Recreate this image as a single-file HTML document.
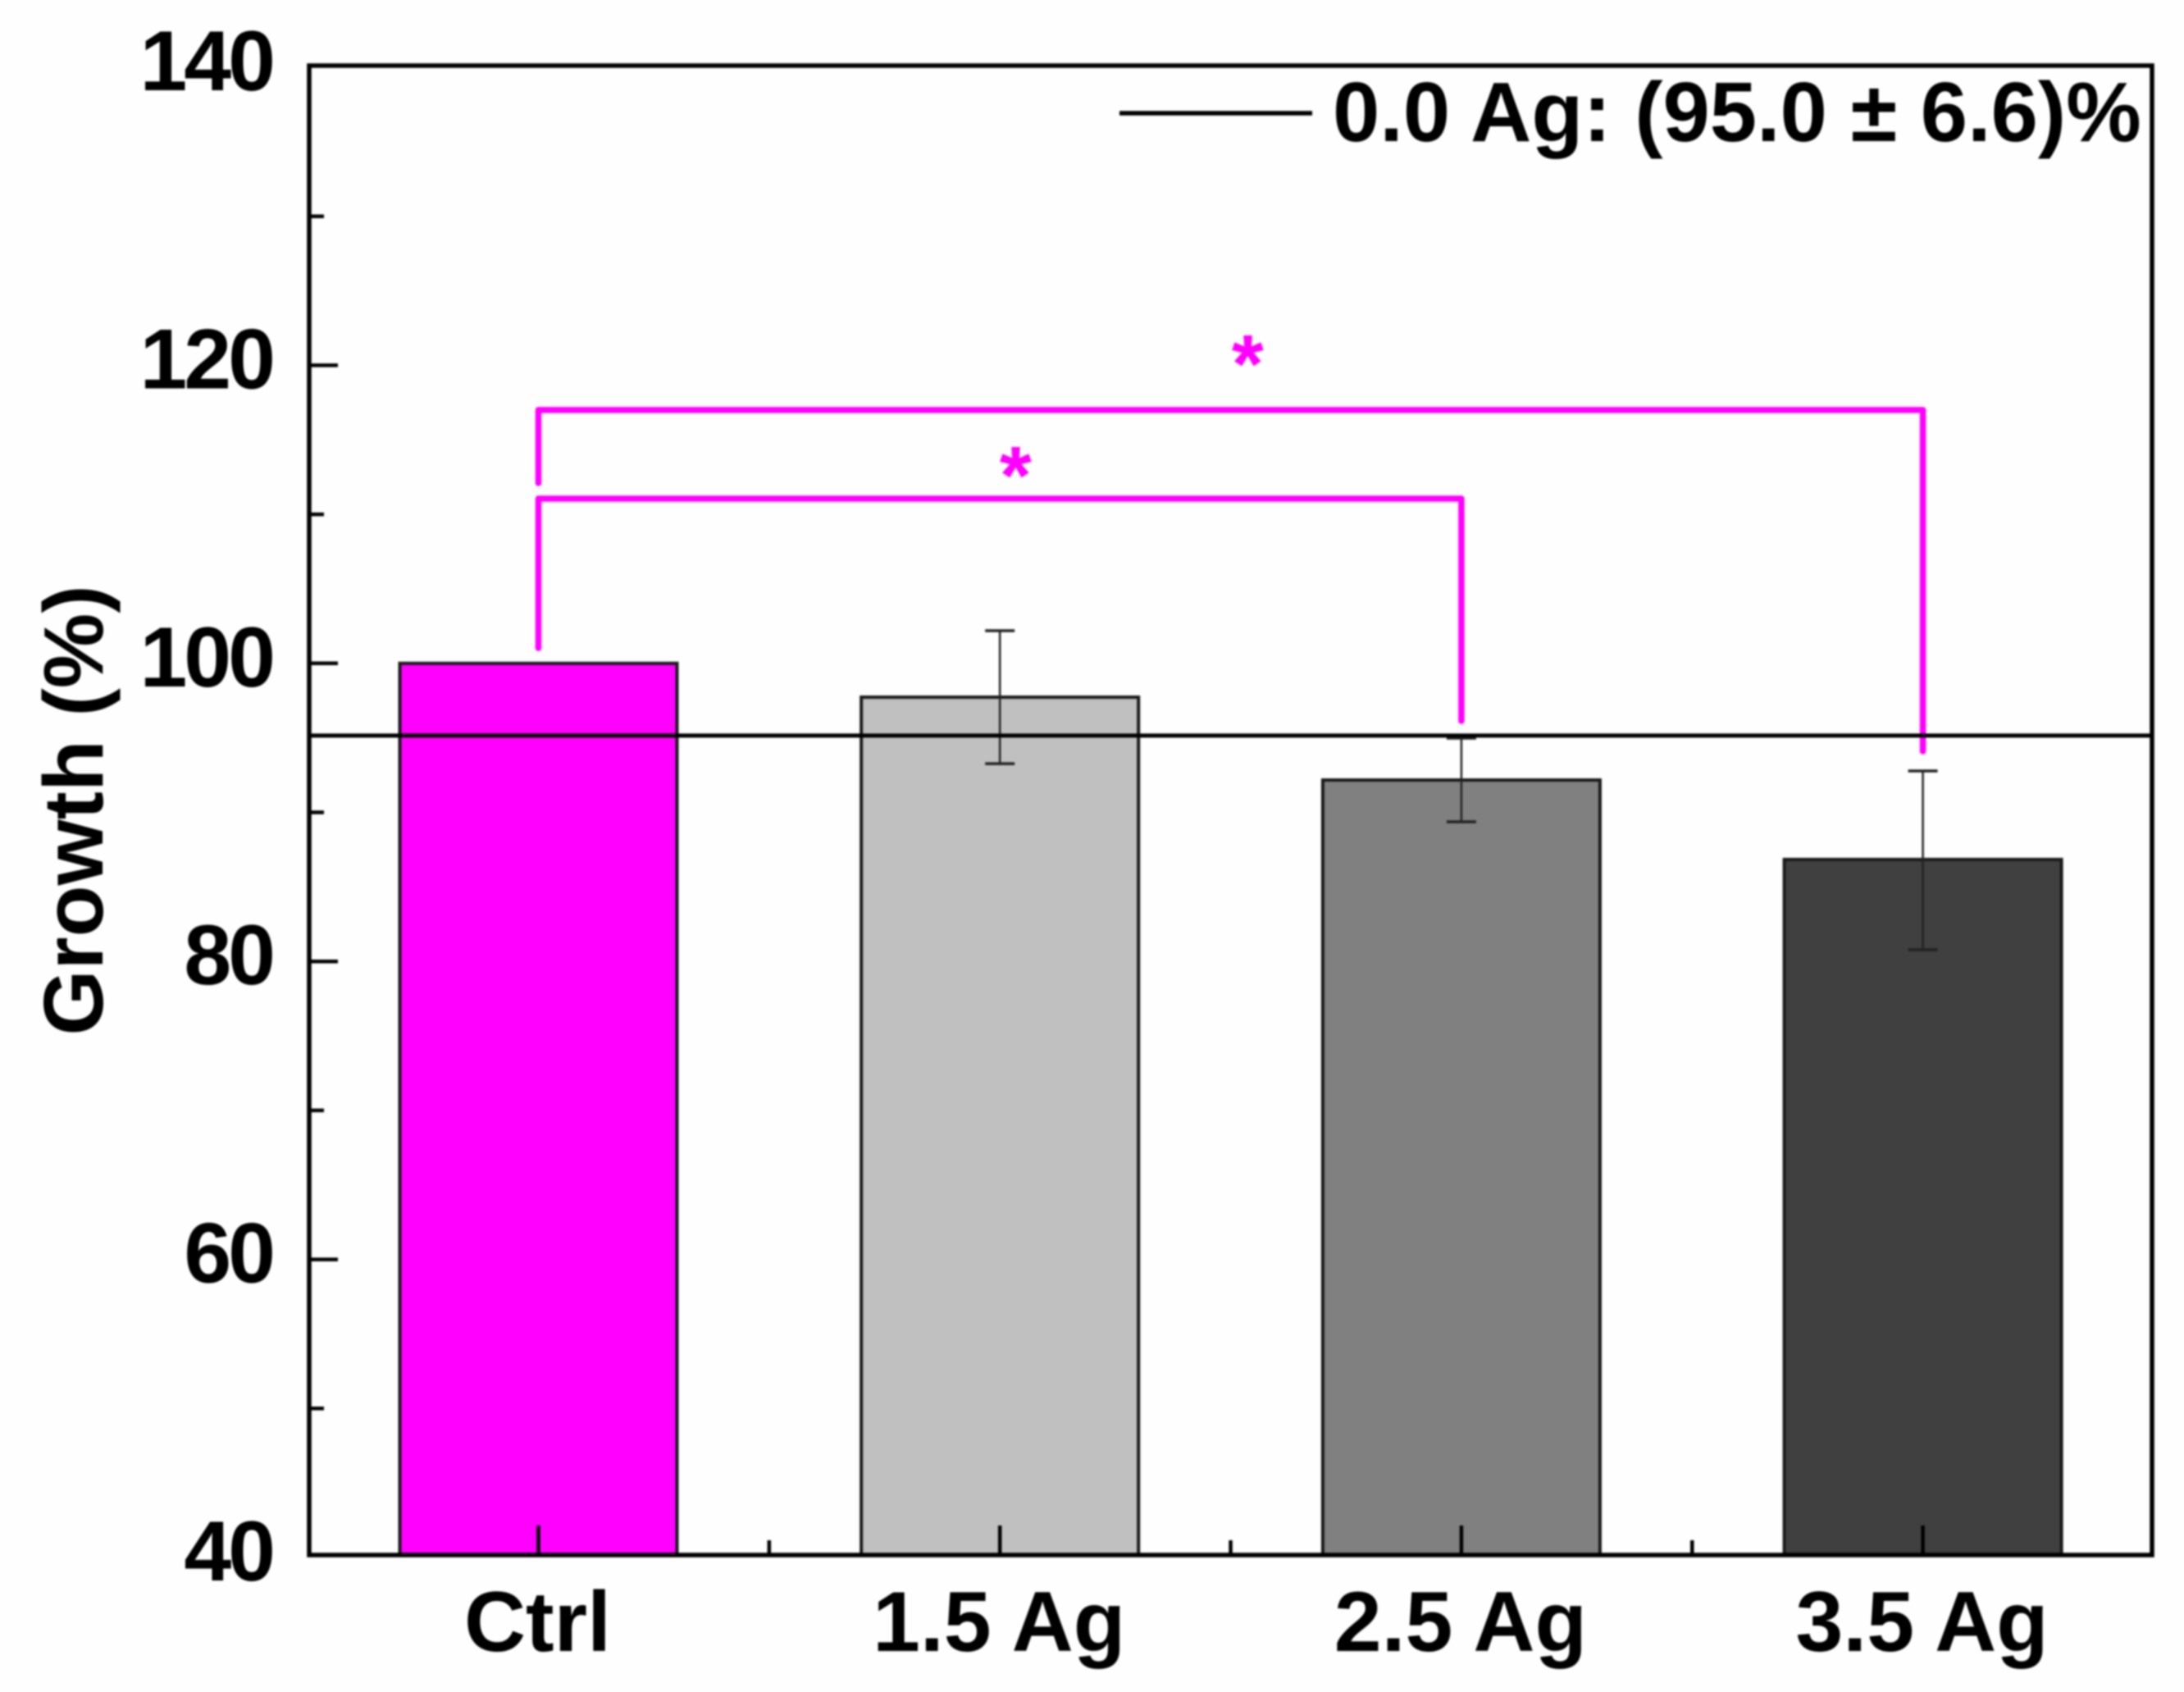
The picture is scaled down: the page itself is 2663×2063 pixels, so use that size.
<!DOCTYPE html>
<html lang="en">
<head>
<meta charset="utf-8">
<title>Growth chart</title>
<style>
html,body{margin:0;padding:0;background:#fff;width:2663px;height:2063px;overflow:hidden}
svg{display:block;filter:blur(1px)}
text{font-family:"Liberation Sans",Arial,sans-serif;font-weight:bold;fill:#000}
</style>
</head>
<body>
<svg id="chart" xmlns="http://www.w3.org/2000/svg" width="2663" height="2063" viewBox="0 0 2663 2063">
<rect x="0" y="0" width="2663" height="2063" fill="#fefefe"/>
</svg>
<script>
const categories = ['Ctrl', '1.5 Ag', '2.5 Ag', '3.5 Ag'];
const barValues = [100, 97.73, 92.17, 86.84];
const errHigh = [null, 102.19, 94.98, 92.78];
const errLow = [null, 93.27, 89.37, 80.78];
const barColors = ['#ff00ff', '#c0c0c0', '#808080', '#404040'];
const yMajorTicks = [140, 120, 100, 80, 60, 40];
const yMinorTicks = [130, 110, 90, 70, 50];
const xMinorTicks = [0.5, 1.5, 2.5];
const referenceValue = [95.15];
const bracketFrom = [0, 0];
const bracketTo = [3, 2];
const bracketLevel = [117.0, 111.05];
const bracketLeftEnd = [112.1, 101.03];
const bracketRightEnd = [94.1, 96.14];
const starCategory = [1.537, 1.034];
const starValue = [121.3, 113.8];

const NS = 'http://www.w3.org/2000/svg';
const svg = document.getElementById('chart');
const xScale = i => 656.5 + 562.7 * i;
const yScale = v => 82 + (140 - v) * 18.17;
const FRAME = { left: 377, right: 2624, top: 80, bottom: 1896 };
const BAR_HALF = 169;
const CAP_HALF = 18;

function make(tag, attrs, parent) {
  const el = document.createElementNS(NS, tag);
  Object.keys(attrs).forEach(k => el.setAttribute(k, attrs[k]));
  (parent || svg).appendChild(el);
  return el;
}

categories.forEach((cat, i) => {
  const top = yScale(barValues[i]);
  const bar = make('rect', { x: xScale(i) - BAR_HALF, y: top, width: BAR_HALF * 2, height: FRAME.bottom - top, fill: barColors[i], stroke: '#1a1a1a', 'stroke-width': 4 });
  
  
});

categories.forEach((cat, i) => {
  if (errHigh[i] === null) return;
  const g = make('g', { stroke: '#222', fill: 'none' });
  
  
  const x = xScale(i), hi = yScale(errHigh[i]), lo = yScale(errLow[i]);
  make('line', { x1: x, x2: x, y1: hi, y2: lo, 'stroke-width': 2.5 }, g);
  make('line', { x1: x - CAP_HALF, x2: x + CAP_HALF, y1: hi, y2: hi, 'stroke-width': 3.5 }, g);
  make('line', { x1: x - CAP_HALF, x2: x + CAP_HALF, y1: lo, y2: lo, 'stroke-width': 3.5 }, g);
});

bracketLevel.forEach((lvl, i) => {
  const xa = xScale(bracketFrom[i]), xb = xScale(bracketTo[i]);
  const d = 'M' + xa + ' ' + yScale(bracketLeftEnd[i]) + ' V' + yScale(lvl) + ' H' + xb + ' V' + yScale(bracketRightEnd[i]);
  const p = make('path', { d: d, fill: 'none', stroke: '#ff00ff', 'stroke-width': 7.5, 'stroke-linejoin': 'round', 'stroke-linecap': 'round' });
  
  
});

starValue.forEach((v, i) => {
  const t = make('text', { x: xScale(starCategory[i]), y: yScale(v) + 56, 'font-size': 100, 'text-anchor': 'middle', style: 'fill:#ff00ff' });
  t.textContent = '*';
  
  
});

const refLine = make('line', { x1: FRAME.left, x2: FRAME.right, y1: yScale(referenceValue[0]), y2: yScale(referenceValue[0]), stroke: '#000', 'stroke-width': 5 });



yMajorTicks.forEach(v => {
  const y = yScale(v);
  if (v !== 140 && v !== 40) {
    const tick = make('line', { x1: FRAME.left, x2: FRAME.left + 35, y1: y, y2: y, stroke: '#000', 'stroke-width': 4.5 });
    
    
  }
  const label = make('text', { x: 332, y: y + 28, 'font-size': 104, 'text-anchor': 'end', 'letter-spacing': '-4' });
  label.textContent = String(v);
  
  
});

yMinorTicks.forEach(v => {
  const tick = make('line', { x1: FRAME.left, x2: FRAME.left + 18, y1: yScale(v), y2: yScale(v), stroke: '#000', 'stroke-width': 4.5 });
  
  
});

categories.forEach((cat, i) => {
  const x = xScale(i);
  const tick = make('line', { x1: x, x2: x, y1: FRAME.bottom, y2: FRAME.bottom - 36, stroke: '#000', 'stroke-width': 4.5 });
  
  
  const label = make('text', { x: x - 1, y: 2013, 'font-size': 104, 'text-anchor': 'middle' });
  label.textContent = cat;
  
  
});

xMinorTicks.forEach((c, i) => {
  const x = xScale(c);
  const tick = make('line', { x1: x, x2: x, y1: FRAME.bottom, y2: FRAME.bottom - 18, stroke: '#000', 'stroke-width': 4.5 });
  
  
});

const frame = make('path', { d: 'M' + FRAME.left + ' ' + FRAME.top + ' H' + FRAME.right + ' V' + FRAME.bottom + ' H' + FRAME.left + ' Z', fill: 'none', stroke: '#000', 'stroke-width': 5.5, 'stroke-linejoin': 'miter' });


</script>
<script>
(function () {
  const chart = document.getElementById('chart');
  const ns = 'http://www.w3.org/2000/svg';
  const legendLine = document.createElementNS(ns, 'line');
  legendLine.setAttribute('x1', 1365);
  legendLine.setAttribute('x2', 1600);
  legendLine.setAttribute('y1', 138);
  legendLine.setAttribute('y2', 138);
  legendLine.setAttribute('stroke', '#000');
  legendLine.setAttribute('stroke-width', 5.5);
  
  
  chart.appendChild(legendLine);

  const legendText = document.createElementNS(ns, 'text');
  legendText.setAttribute('x', 1625);
  legendText.setAttribute('y', 172);
  legendText.setAttribute('font-size', 103);
  legendText.textContent = '0.0 Ag: (95.0 ± 6.6)%';
  
  
  chart.appendChild(legendText);

  const title = document.createElementNS(ns, 'text');
  title.setAttribute('transform', 'translate(125 988) rotate(-90)');
  title.setAttribute('font-size', 103);
  title.setAttribute('text-anchor', 'middle');
  title.textContent = 'Growth (%)';
  
  
  chart.appendChild(title);
})();
</script>
</body>
</html>
